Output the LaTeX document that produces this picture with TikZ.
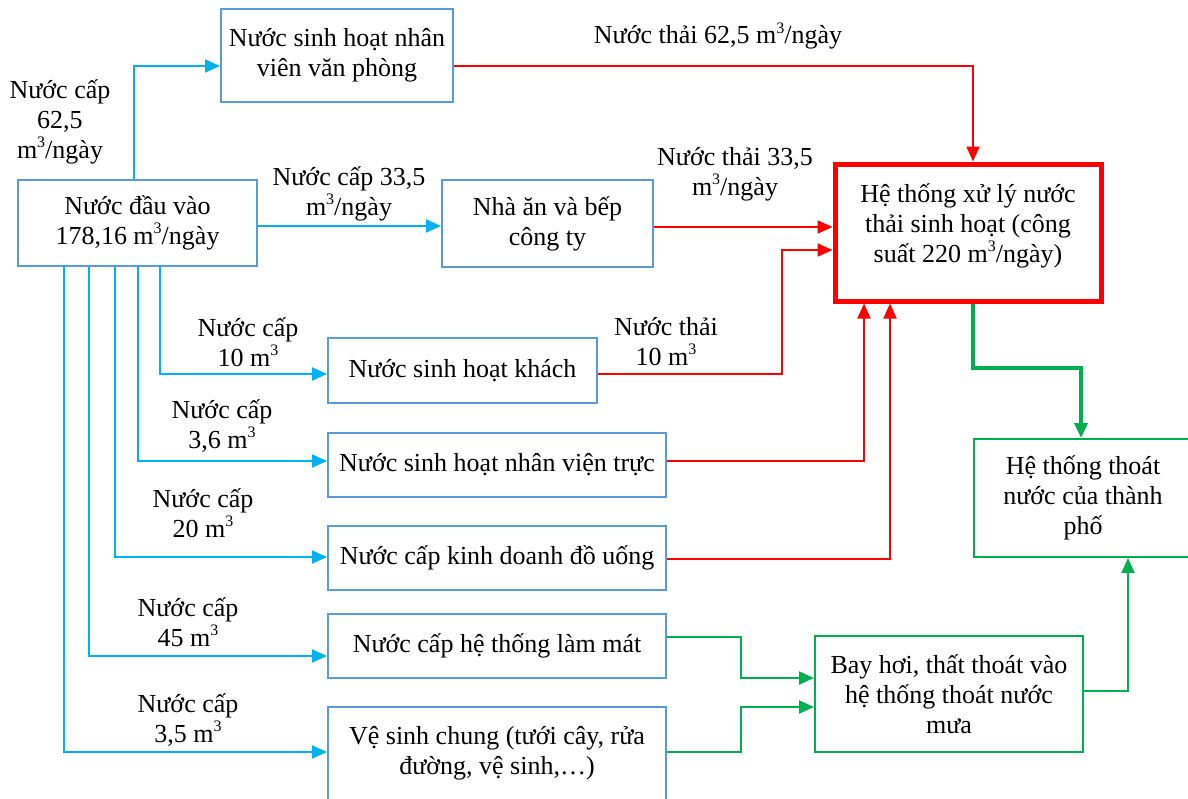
\documentclass[tikz,border=0pt]{standalone}
\usepackage{fontspec}
\setmainfont{Liberation Serif}
\usetikzlibrary{arrows.meta}
\definecolor{boxblue}{HTML}{5B9BD5}
\definecolor{feedblue}{HTML}{00B0F0}
\definecolor{wred}{HTML}{FF0000}
\definecolor{wgreen}{HTML}{00B050}
% cubic metre with a small raised 3
\newcommand{\mcube}{m\raisebox{0.42em}{\fontsize{16}{16}\selectfont 3}}
\begin{document}
\begin{tikzpicture}[x=1pt,y=-1pt,
  every node/.style={font=\fontsize{26}{30}\selectfont, align=center, inner sep=0pt},
  bluebox/.style={draw=boxblue, line width=2pt, fill=white},
  mainbox/.style={draw=wred, line width=5pt, fill=white},
  greenbox/.style={draw=wgreen, line width=2pt, fill=white},
  tip/.style={-{Triangle[length=15pt,width=13pt]}},
  feed/.style={tip, draw=feedblue, line width=2pt},
  waste/.style={tip, draw=wred, line width=2pt},
  drain/.style={tip, draw=wgreen, line width=2pt},
  maindrain/.style={tip, draw=wgreen, line width=3.5pt},
  lbl/.style={}
]
\useasboundingbox (0,0) rectangle (1188,798);

% boxes
\node[bluebox, minimum width=232pt, minimum height=93pt] (office) at (337,55.5) {Nước sinh hoạt nhân\\viên văn phòng};
\node[bluebox, minimum width=239pt, minimum height=86pt] (src) at (137.5,223) {Nước đầu vào\\178,16 \mcube/ngày};
\node[bluebox, minimum width=211pt, minimum height=87pt] (kitchen) at (547.5,223.5) {Nhà ăn và bếp\\công ty};
\node[mainbox, minimum width=266pt, minimum height=137pt] (wwtp) at (968,232.5) {};
\node (wwtptext) at (968,226) {Hệ thống xử lý nước\\thải sinh hoạt (công\\suất 220 \mcube/ngày)};
\node[bluebox, minimum width=269pt, minimum height=65pt] (guest) at (462.5,370.5) {Nước sinh hoạt khách};
\node[bluebox, minimum width=338pt, minimum height=64pt] (duty) at (497,465) {Nước sinh hoạt nhân viện trực};
\node[bluebox, minimum width=338pt, minimum height=64pt] (drinks) at (497,558) {Nước cấp kinh doanh đồ uống};
\node[bluebox, minimum width=338pt, minimum height=64pt] (cooling) at (497,646) {Nước cấp hệ thống làm mát};
\node[bluebox, minimum width=338pt, minimum height=93pt] (clean) at (497,753.5) {Vệ sinh chung (tưới cây, rửa\\đường, vệ sinh,…)};
\node[greenbox, minimum width=268pt, minimum height=116pt] (evap) at (949,694) {Bay hơi, thất thoát vào\\hệ thống thoát nước\\mưa};
\node[greenbox, minimum width=218pt, minimum height=118pt] (city) at (1083,498) {Hệ thống thoát\\nước của thành\\phố};

% supply lines
\draw[feed] (src.north -| 134,0) |- (office.west |- 0,66);
\draw[feed] (src.east |- 0,226) -- (kitchen.west |- 0,226);
\draw[feed] (src.south -| 160,0) |- (guest.west |- 0,374);
\draw[feed] (src.south -| 138,0) |- (duty.west |- 0,461);
\draw[feed] (src.south -| 115,0) |- (drinks.west |- 0,557);
\draw[feed] (src.south -| 89,0) |- (cooling.west |- 0,656);
\draw[feed] (src.south -| 64,0) |- (clean.west |- 0,752);

% wastewater lines
\draw[waste] (office.east |- 0,66) -| (wwtp.north -| 973,0);
\draw[waste] (kitchen.east |- 0,227) -- (wwtp.west |- 0,227);
\draw[waste] (guest.east |- 0,374) -| (782,250) -- (wwtp.west |- 0,250);
\draw[waste] (duty.east |- 0,461) -| (wwtp.south -| 864,0);
\draw[waste] (drinks.east |- 0,559) -| (wwtp.south -| 890,0);

% drainage lines
\draw[maindrain] (wwtp.south -| 973,0) |- (1081,368) -- (city.north -| 1081,0);
\draw[drain] (cooling.east |- 0,637) -| (741,678) -- (evap.west |- 0,678);
\draw[drain] (clean.east |- 0,752) -| (741,707) -- (evap.west |- 0,707);
\draw[drain] (evap.east |- 0,691) -| (city.south -| 1128,0);

% flow labels
\node[lbl] (l1) at (60,122) {Nước cấp\\62,5\\\mcube/ngày};
\node[lbl] (l2) at (349,194) {Nước cấp 33,5\\\mcube/ngày};
\node[lbl] (l3) at (718,36) {Nước thải 62,5 \mcube/ngày};
\node[lbl] (l4) at (735,174) {Nước thải 33,5\\\mcube/ngày};
\node[lbl] (l5) at (666,342) {Nước thải\\10 \mcube};
\node[lbl] (l6) at (248,342) {Nước cấp\\10 \mcube};
\node[lbl] (l7) at (222,426) {Nước cấp\\3,6 \mcube};
\node[lbl] (l8) at (203,513) {Nước cấp\\20 \mcube};
\node[lbl] (l9) at (188,622) {Nước cấp\\45 \mcube};
\node[lbl] (l10) at (188,720) {Nước cấp\\3,5 \mcube};
\end{tikzpicture}
\end{document}
